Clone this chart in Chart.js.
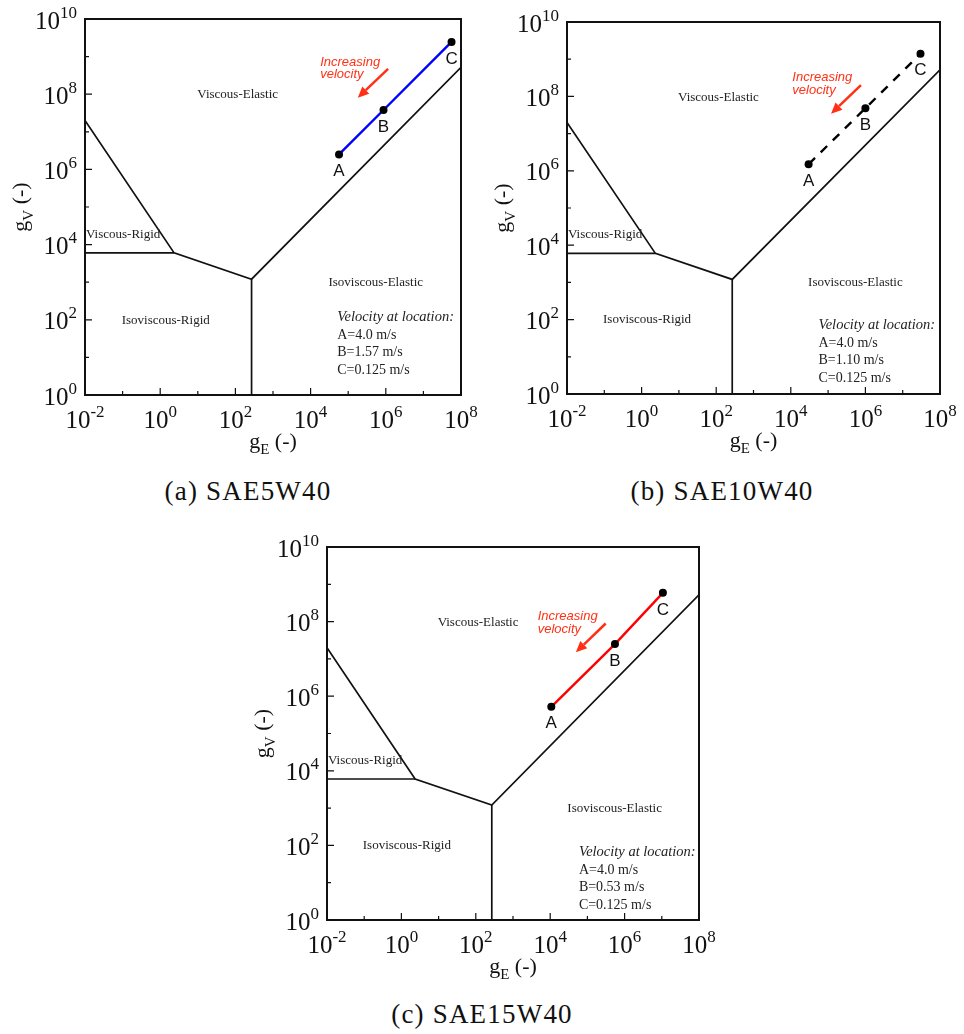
<!DOCTYPE html>
<html>
<head>
<meta charset="utf-8">
<title>Film parameter maps</title>
<script src="https://cdn.jsdelivr.net/npm/chart.js@4.4.1/dist/chart.umd.min.js"></script>
<style>
  body { margin: 0; background: #fff; }
  #page { position: relative; width: 964px; height: 1034px; }
  .panel { position: absolute; }
  .caption {
    position: absolute; width: 300px; text-align: center; white-space: nowrap;
    font-family: 'Liberation Serif', serif; font-size: 27px; letter-spacing: 1.2px;
    line-height: 30px; color: #111;
  }
</style>
</head>
<body>
<div id="page">
  <canvas id="chartA" class="panel" width="482" height="470" style="left:0;top:0"></canvas>
  <canvas id="chartB" class="panel" width="482" height="470" style="left:482px;top:0"></canvas>
  <canvas id="chartC" class="panel" width="482" height="470" style="left:242px;top:527px"></canvas>
  <div class="caption" style="left:98px;top:476px">(a) SAE5W40</div>
  <div class="caption" style="left:572px;top:476px">(b) SAE10W40</div>
  <div class="caption" style="left:332px;top:999px">(c) SAE15W40</div>
</div>
<script>
// operating points A, B, C (g_E, g_V)
const pointNames = ['A', 'B', 'C'];
const sae5w40GE = [5.7e4, 8.7e5, 5.6e7];
const sae5w40GV = [2.5e6, 3.8e7, 2.45e9];
const sae10w40GE = [3.0e4, 1.0e6, 3.0e7];
const sae10w40GV = [1.5e6, 4.8e7, 1.4e9];
const sae15w40GE = [1.07e4, 5.5e5, 1.07e7];
const sae15w40GV = [5.2e5, 2.5e7, 5.9e8];

// entrainment velocity at each point (m/s)
const sae5w40Speeds = ['4.0', '1.57', '0.125'];
const sae10w40Speeds = ['4.0', '1.10', '0.125'];
const sae15w40Speeds = ['4.0', '0.53', '0.125'];

// lubrication regime boundaries
const outerEdgeGE = [0.01, 2.34, 269, 1e8];
const outerEdgeGV = [2.0e7, 6026, 1202, 5.2e8];
const rigidEdgeGE = [0.01, 2.34];
const rigidEdgeGV = [6026, 6026];
const elasticEdgeGE = [269, 269];
const elasticEdgeGV = [1, 1202];

// labelled decades on each axis
const xLabelExps = [-2, 0, 2, 4, 6, 8];
const yLabelExps = [0, 2, 4, 6, 8, 10];

const INK = '#111';
const ARROW_RED = '#ff3014';

function drawPower(ctx, exp, left, baseline) {
  ctx.font = '25px "Liberation Serif"';
  ctx.textAlign = 'left';
  ctx.textBaseline = 'alphabetic';
  ctx.fillText('10', left, baseline);
  const w = ctx.measureText('10').width;
  ctx.font = '17px "Liberation Serif"';
  ctx.fillText(String(exp), left + w, baseline - 11);
}

function powerWidth(ctx, exp) {
  ctx.font = '25px "Liberation Serif"';
  const w = ctx.measureText('10').width;
  ctx.font = '17px "Liberation Serif"';
  return w + ctx.measureText(String(exp)).width;
}

// draws "g_sub (-)" centred on cx
function drawTitle(ctx, sub, cx, baseline) {
  ctx.font = '22px "Liberation Serif"';
  const wg = ctx.measureText('g').width;
  const wTail = ctx.measureText(' (-)').width;
  ctx.font = '15px "Liberation Serif"';
  const ws = ctx.measureText(sub).width;
  let x = cx - (wg + ws + wTail) / 2;
  ctx.textAlign = 'left';
  ctx.textBaseline = 'alphabetic';
  ctx.font = '22px "Liberation Serif"';
  ctx.fillText('g', x, baseline);
  x += wg;
  ctx.font = '15px "Liberation Serif"';
  ctx.fillText(sub, x, baseline + 6);
  x += ws;
  ctx.font = '22px "Liberation Serif"';
  ctx.fillText(' (-)', x, baseline);
}

const mapDecor = {
  id: 'mapDecor',
  afterDatasetsDraw(chart, args, opts) {
    const { ctx, chartArea: area, scales: { x, y } } = chart;
    ctx.save();
    ctx.fillStyle = INK;
    ctx.strokeStyle = INK;

    // frame
    ctx.lineWidth = 2;
    ctx.strokeRect(area.left, area.top, area.right - area.left, area.bottom - area.top);

    // inward ticks, long on labelled decades
    ctx.lineWidth = 1.2;
    ctx.beginPath();
    for (let e = xLabelExps[0]; e <= xLabelExps[xLabelExps.length - 1]; e++) {
      const px = x.getPixelForValue(Math.pow(10, e));
      const len = xLabelExps.includes(e) ? 7 : 4;
      ctx.moveTo(px, area.bottom);
      ctx.lineTo(px, area.bottom - len);
    }
    for (let e = yLabelExps[0]; e <= yLabelExps[yLabelExps.length - 1]; e++) {
      const py = y.getPixelForValue(Math.pow(10, e));
      const len = yLabelExps.includes(e) ? 7 : 4;
      ctx.moveTo(area.left, py);
      ctx.lineTo(area.left + len, py);
    }
    ctx.stroke();

    // tick labels
    xLabelExps.forEach(e => {
      const px = x.getPixelForValue(Math.pow(10, e));
      drawPower(ctx, e, px - powerWidth(ctx, e) / 2, area.bottom + 33);
    });
    yLabelExps.forEach(e => {
      const py = y.getPixelForValue(Math.pow(10, e));
      drawPower(ctx, e, area.left - 8 - powerWidth(ctx, e), py + 9.5);
    });

    // axis titles
    drawTitle(ctx, 'E', (area.left + area.right) / 2, area.bottom + 53);
    ctx.save();
    ctx.translate(area.left - 58, (area.top + area.bottom) / 2);
    ctx.rotate(-Math.PI / 2);
    drawTitle(ctx, 'V', 0, 0);
    ctx.restore();

    // regime names
    ctx.font = '13px "Liberation Serif"';
    ctx.fillStyle = '#222';
    ctx.textBaseline = 'middle';
    ctx.textAlign = 'center';
    ctx.fillText('Viscous-Elastic', x.getPixelForValue(115), y.getPixelForValue(9.5e7));
    ctx.fillText('Isoviscous-Elastic', x.getPixelForValue(5.4e5), y.getPixelForValue(980));
    ctx.fillText('Isoviscous-Rigid', x.getPixelForValue(1.4), y.getPixelForValue(98));
    ctx.textAlign = 'left';
    ctx.fillText('Viscous-Rigid', area.left + 1, y.getPixelForValue(1.9e4));

    // velocity note
    const vx = x.getPixelForValue(opts.noteAt[0]);
    const vy = y.getPixelForValue(opts.noteAt[1]);
    ctx.font = 'italic 14.5px "Liberation Serif"';
    ctx.fillText('Velocity at location:', vx, vy);
    ctx.font = '14px "Liberation Serif"';
    pointNames.forEach((n, i) => {
      ctx.fillText(n + '=' + opts.speeds[i] + ' m/s', vx, vy + 17.7 * (i + 1));
    });

    // point letters under each marker
    ctx.fillStyle = INK;
    ctx.font = '17px "Liberation Sans"';
    ctx.textAlign = 'center';
    const meta = chart.getDatasetMeta(0);
    meta.data.forEach((pt, i) => {
      ctx.fillText(pointNames[i], pt.x, pt.y + 17);
    });

    // "Increasing velocity" arrow
    ctx.fillStyle = ARROW_RED;
    ctx.strokeStyle = ARROW_RED;
    ctx.font = 'italic 13px "Liberation Sans"';
    ctx.textAlign = 'left';
    const tx = x.getPixelForValue(opts.textAt[0]);
    const ty = y.getPixelForValue(opts.textAt[1]);
    ctx.fillText('Increasing', tx, ty);
    ctx.fillText('velocity', tx, ty + 12.5);

    const x0 = x.getPixelForValue(opts.arrowFrom[0]), y0 = y.getPixelForValue(opts.arrowFrom[1]);
    const x1 = x.getPixelForValue(opts.arrowTo[0]), y1 = y.getPixelForValue(opts.arrowTo[1]);
    const ang = Math.atan2(y1 - y0, x1 - x0);
    const head = 11;
    const bx = x1 - head * Math.cos(ang), by = y1 - head * Math.sin(ang);
    ctx.lineWidth = 2.5;
    ctx.beginPath();
    ctx.moveTo(x0, y0);
    ctx.lineTo(bx, by);
    ctx.stroke();
    ctx.beginPath();
    ctx.moveTo(x1, y1);
    ctx.lineTo(bx + 5 * Math.sin(ang), by - 5 * Math.cos(ang));
    ctx.lineTo(bx - 5 * Math.sin(ang), by + 5 * Math.cos(ang));
    ctx.closePath();
    ctx.fill();

    ctx.restore();
  }
};

const toPoints = (xs, ys) => xs.map((v, i) => ({ x: v, y: ys[i] }));

function edge(xs, ys) {
  return {
    data: toPoints(xs, ys),
    showLine: true,
    borderColor: INK,
    borderWidth: 1.7,
    pointRadius: 0,
    order: 1
  };
}

function buildPanel(canvasId, ge, gv, lineColor, dash, speeds, box, notes) {
  return new Chart(document.getElementById(canvasId), {
    type: 'scatter',
    data: {
      datasets: [
        {
          data: toPoints(ge, gv),
          showLine: true,
          borderColor: lineColor,
          borderWidth: 2.4,
          borderDash: dash,
          pointRadius: 4,
          pointBorderWidth: 0,
          pointBackgroundColor: '#000',
          order: 0
        },
        edge(outerEdgeGE, outerEdgeGV),
        edge(rigidEdgeGE, rigidEdgeGV),
        edge(elasticEdgeGE, elasticEdgeGV)
      ]
    },
    options: {
      responsive: false,
      animation: false,
      events: [],
      layout: { padding: { top: box.top, right: box.right, left: 0, bottom: 0 } },
      plugins: {
        legend: { display: false },
        tooltip: { enabled: false },
        mapDecor: Object.assign({ speeds: speeds }, notes)
      },
      scales: {
        x: {
          type: 'logarithmic', min: 0.01, max: 1e8,
          grid: { display: false }, border: { display: false }, ticks: { display: false },
          afterFit: s => { s.height = box.bottom; }
        },
        y: {
          type: 'logarithmic', min: 1, max: 1e10,
          grid: { display: false }, border: { display: false }, ticks: { display: false },
          afterFit: s => { s.width = 85; }
        }
      }
    },
    plugins: [mapDecor]
  });
}

buildPanel('chartA', sae5w40GE, sae5w40GV, '#0000ff', [], sae5w40Speeds,
  { top: 19, right: 21, bottom: 75 },
  { noteAt: [5.1e4, 117], textAt: [1.8e4, 7.2e8], arrowFrom: [1.15e6, 4.7e8], arrowTo: [1.8e5, 8.1e7] });

buildPanel('chartB', sae10w40GE, sae10w40GV, '#000000', [9, 8], sae10w40Speeds,
  { top: 22, right: 24, bottom: 76 },
  { noteAt: [5.5e4, 71], textAt: [1.1e4, 3.2e8], arrowFrom: [7.6e5, 2.0e8], arrowTo: [1.2e5, 3.4e7] });

buildPanel('chartC', sae15w40GE, sae15w40GV, '#ff0000', [], sae15w40Speeds,
  { top: 20, right: 25, bottom: 77 },
  { noteAt: [5.9e4, 65], textAt: [4.6e3, 1.35e8], arrowFrom: [3.1e5, 8.9e7], arrowTo: [4.9e4, 1.5e7] });
</script>
</body>
</html>
